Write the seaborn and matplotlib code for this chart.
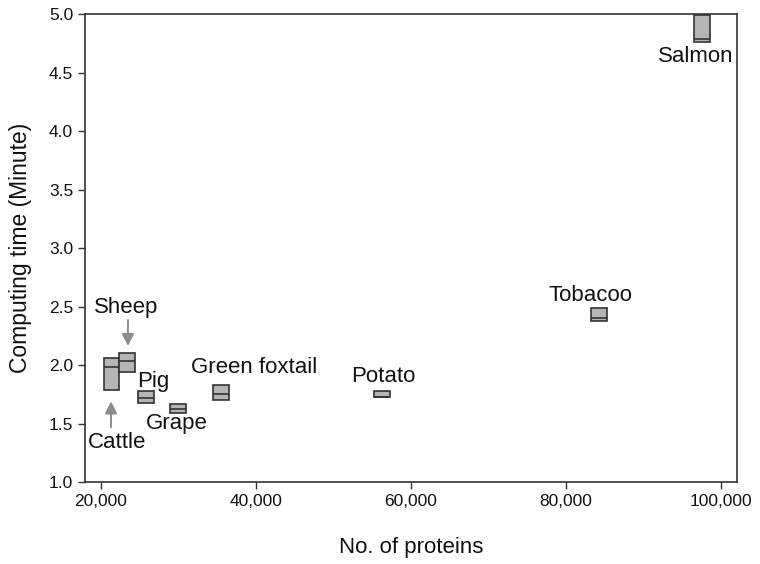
import pandas as pd
import numpy as np
import matplotlib.pyplot as plt
import seaborn as sns
from matplotlib.ticker import StrMethodFormatter

## computing time per species (box = low / median / high)
species = ['Cattle', 'Sheep', 'Pig', 'Grape', 'Green foxtail', 'Potato', 'Tobacoo', 'Salmon']
proteins = [21350, 23300, 25850, 29900, 35450, 56300, 84300, 97600]
time_low = [1.79, 1.94, 1.68, 1.595, 1.70, 1.727, 2.38, 4.76]
time_med = [1.985, 2.04, 1.72, 1.63, 1.75, 1.727, 2.40, 4.785]
time_high = [2.06, 2.10, 1.78, 1.665, 1.83, 1.78, 2.49, 4.99]

# label positions (x centre, baseline y)
label_x = [22050, 23300, 26750, 29800, 39800, 56450, 83150, 96700]
label_y = [1.29, 2.445, 1.815, 1.455, 1.93, 1.86, 2.545, 4.59]

xticks = [20000, 40000, 60000, 80000, 100000]
yticks = [1.0, 1.5, 2.0, 2.5, 3.0, 3.5, 4.0, 4.5, 5.0]

# long table: 5 points per box so quartiles land on low/med/high
rows = []
for s, p, lo, md, hi in zip(species, proteins, time_low, time_med, time_high):
    for v in [lo, lo, md, hi, hi]:
        rows.append({'species': s, 'proteins': p, 'minutes': v})
df = pd.DataFrame(rows)

sns.set_style('ticks')
plt.rcParams['font.family'] = ['Liberation Sans', 'DejaVu Sans']

fig = plt.figure(figsize=(7.6, 5.64), dpi=100)
ax = fig.add_axes([0.1118, 0.1449, 0.8575, 0.8303])

box_w = 2050
min_gap = np.diff(np.sort(proteins)).min()
sns.boxplot(data=df, x='proteins', y='minutes', native_scale=True, orient='x',
            width=box_w / min_gap, color='#b5b5b5', linecolor='#333333',
            linewidth=1.2, saturation=1, showcaps=False, fliersize=0, ax=ax)

# species names
for s, lx, ly in zip(species, label_x, label_y):
    ax.text(lx, ly, s, ha='center', va='baseline', fontsize=16, color='#111111')

# arrows for the crowded pair
arr = dict(arrowstyle='-|>', color='#8c8c8c', lw=1.4, mutation_scale=18)
ax.annotate('', xy=(23480, 2.14), xytext=(23480, 2.41), arrowprops=arr)
ax.annotate('', xy=(21290, 1.715), xytext=(21290, 1.445), arrowprops=arr)

ax.set_xlim(17930, 102030)
ax.set_ylim(1.0, 5.0)
ax.set_xticks(xticks)
ax.set_yticks(yticks)
ax.xaxis.set_major_formatter(StrMethodFormatter('{x:,.0f}'))
ax.yaxis.set_major_formatter(StrMethodFormatter('{x:.1f}'))
ax.tick_params(labelsize=12.5, length=5, width=1, color='#333333', labelcolor='#111111')
ax.set_xlabel('No. of proteins', fontsize=16, labelpad=20, color='#111111')
ax.set_ylabel('Computing time (Minute)', fontsize=16.5, labelpad=12, color='#111111')
for sp in ax.spines.values():
    sp.set_visible(True)
    sp.set_color('#333333')
    sp.set_linewidth(1.2)

plt.savefig('out.png', dpi=100)
